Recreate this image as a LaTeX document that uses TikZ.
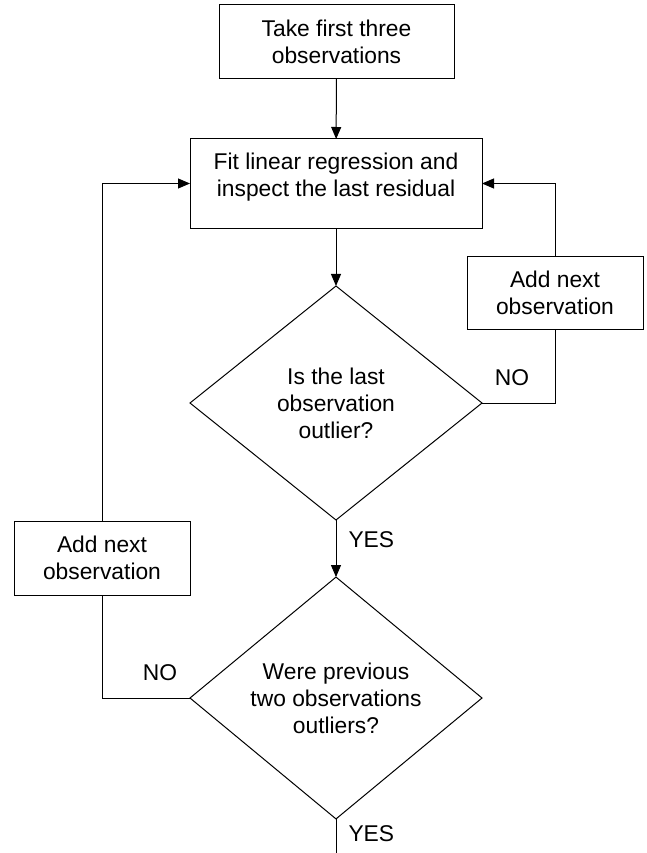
\documentclass[tikz,border=0pt]{standalone}
\usepackage{fontspec}
\setmainfont{Liberation Sans}
\usetikzlibrary{shapes.geometric,arrows.meta}

\begin{document}
\begin{tikzpicture}[x=1pt,y=1pt,line width=1pt,
  every node/.style={font=\fontsize{22.8}{27}\selectfont},
  box/.style={draw,rectangle,align=center,inner sep=0pt,outer sep=0pt},
  test/.style={draw,diamond,align=center,inner sep=0pt,outer sep=0pt,minimum width=292pt,minimum height=234pt},
  arr/.style={-{Triangle[length=12pt,width=10pt]}},
  lbl/.style={inner sep=0pt}]
\useasboundingbox (0,0) rectangle (646,-853);

\node[box,minimum width=235pt,minimum height=74pt] (take) at (336.5,-42) {Take first three\\observations};
\node[box,minimum width=292pt,minimum height=89pt,text depth=18pt] (fit) at (336,-183.5) {Fit linear regression and\\inspect the last residual};
\node[test] (last) at (336,-403) {Is the last\\observation\\outlier?};
\node[test] (prev) at (336,-698) {Were previous\\two observations\\outliers?};
\node[box,minimum width=176pt,minimum height=73pt] (addr) at (555,-293) {Add next\\observation};
\node[box,minimum width=176pt,minimum height=74pt] (addl) at (102,-558) {Add next\\observation};
\coordinate (end) at (336,-853);

\draw[arr] (take) -- (fit);
\draw[arr] (fit) -- (last);
\draw[arr] (last) -- (prev);
\draw (prev) -- (end);
\node[lbl,anchor=west] (yes1) at (348,-540) {YES};
\node[lbl,anchor=west] (yes2) at (348,-834) {YES};

\draw (last.east) -| (addr.south);
\draw[arr] (addr.north) |- (fit.east);
\node[lbl] (no1) at (512,-378) {NO};

\draw (prev.west) -| (addl.south);
\draw[arr] (addl.north) |- (fit.west);
\node[lbl] (no2) at (160,-673) {NO};
\end{tikzpicture}
\end{document}
